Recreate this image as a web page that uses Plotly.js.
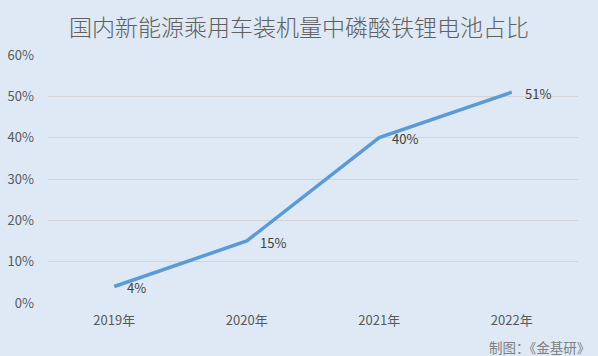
<!DOCTYPE html>
<html>
<head>
<meta charset="utf-8">
<script src="https://cdn.plot.ly/plotly-3.0.1.min.js"></script>
<style>html,body{margin:0;padding:0;background:#dee9f5;}#chart{width:598px;height:356px;}</style>
</head>
<body>
<div id="chart"></div>
<script>
const categories = ['2019年', '2020年', '2021年', '2022年'];
const shareValues = [0.04, 0.15, 0.40, 0.51];
const valueLabels = ['4%', '15%', '40%', '51%'];
const yTickValues = [0, 0.1, 0.2, 0.3, 0.4, 0.5, 0.6];
const yTickLabels = ['0%', '10%', '20%', '30%', '40%', '50%', '60%'];
const titleText = '国内新能源乘用车装机量中磷酸铁锂电池占比';
const sourceText = '制图：《金基研》';

const font = "'Noto Sans CJK SC', 'Noto Sans', sans-serif";

const trace = {
  x: categories,
  y: shareValues,
  type: 'scatter',
  mode: 'lines',
  line: {color: '#5b9bd5', width: 3.5},
  hoverinfo: 'skip'
};

const annotations = categories.map((c, i) => ({
  x: c, y: shareValues[i], xref: 'x', yref: 'y',
  text: valueLabels[i], showarrow: false,
  xanchor: 'left', yanchor: 'middle', xshift: 11, yshift: -1,
  font: {family: font, size: 13, color: '#404040'}
}));
annotations.push({
  x: 1, y: 0, xref: 'paper', yref: 'paper',
  xanchor: 'right', yanchor: 'middle', xshift: 14, yshift: -44,
  text: sourceText, showarrow: false,
  font: {family: font, size: 13.5, color: '#7f7f7f'}
});

const layout = {
  width: 598, height: 356,
  paper_bgcolor: '#dee9f5',
  plot_bgcolor: '#dee9f5',
  margin: {l: 48, r: 20, t: 55, b: 53},
  title: {
    text: titleText,
    x: 0.5, xanchor: 'center', y: 0.921, yanchor: 'middle',
    font: {family: font, size: 23, color: '#606060', weight: 300}
  },
  showlegend: false,
  xaxis: {
    type: 'category',
    range: [-0.5, 3.5],
    showgrid: false, zeroline: false, showline: false,
    ticks: '',
    ticklabelstandoff: 8,
    tickfont: {family: font, size: 13, color: '#595959'},
    fixedrange: true
  },
  yaxis: {
    range: [0, 0.6],
    tickvals: yTickValues,
    ticktext: yTickLabels,
    showgrid: true, gridcolor: '#d4d4d4', gridwidth: 1,
    zeroline: false, showline: false, ticks: '',
    ticklabelstandoff: 13,
    tickfont: {family: font, size: 13, color: '#595959'},
    fixedrange: true
  },
  annotations: annotations
};

Plotly.newPlot('chart', [trace], layout, {displayModeBar: false, staticPlot: true});
</script>
</body>
</html>
